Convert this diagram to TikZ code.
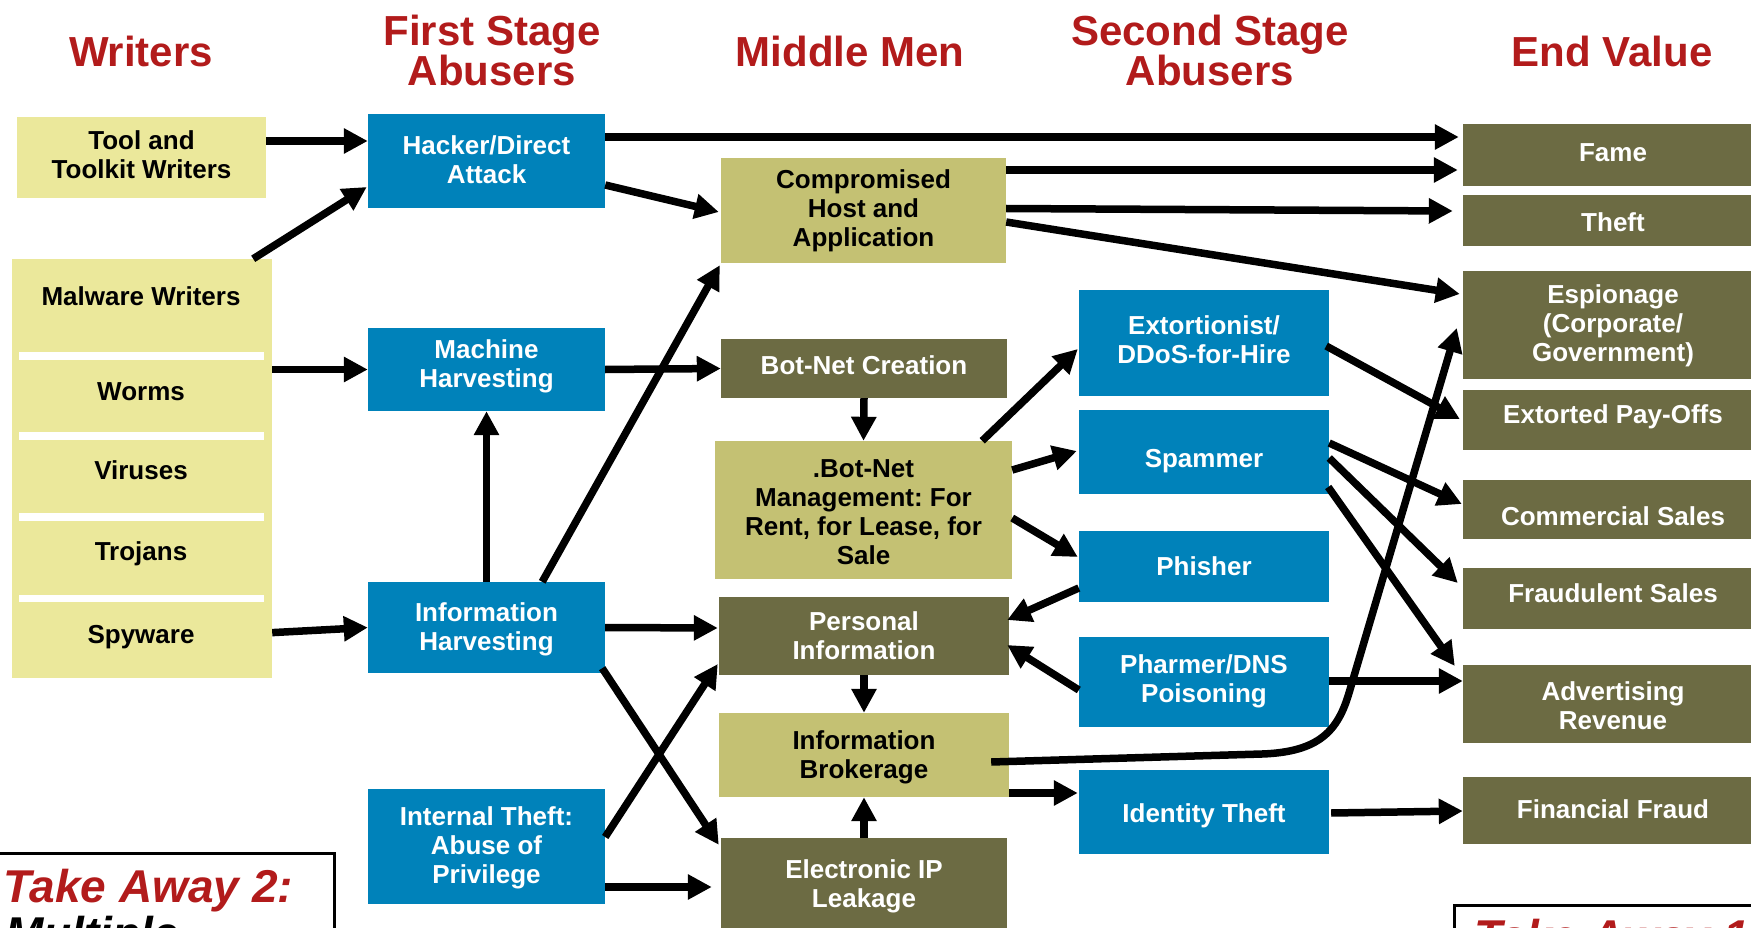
\documentclass[tikz,border=0pt]{standalone}
\usepackage{fontspec}
\setmainfont{Liberation Sans}
\usetikzlibrary{arrows.meta,calc}
\definecolor{cblue}{RGB}{0,130,186}
\definecolor{colive}{RGB}{108,107,67}
\definecolor{ckhaki}{RGB}{196,193,115}
\definecolor{cyellow}{RGB}{235,232,155}
\definecolor{cred}{RGB}{178,27,27}
\frenchspacing
\newcommand\boxfont{\bfseries\fontsize{26}{29}\selectfont\frenchspacing}
\newcommand\hdrfont{\bfseries\fontsize{42}{40}\selectfont}
\newcommand\tafont{\bfseries\itshape\fontsize{46}{47}\selectfont}
\begin{document}
\begin{tikzpicture}[x=1pt,y=-1pt,
  sz/.style 2 args={minimum width=#1pt, minimum height=#2pt},
  lastbase/.style={text height=#1pt, text depth=0pt},
  box/.style={rectangle, inner sep=0pt, align=center, font=\boxfont},
  bluebox/.style={box, fill=cblue, text=white},
  olivebox/.style={box, fill=colive, text=white},
  khakibox/.style={box, fill=ckhaki, text=black},
  ybox/.style={box, fill=cyellow, text=black},
  wtxt/.style={anchor=base, inner sep=0pt, font=\boxfont, text=black},
  hdr/.style={anchor=base, inner sep=0pt, text=cred, font=\hdrfont},
  tabox/.style={rectangle, draw=black, line width=2.5pt, fill=white, inner sep=0pt},
  tatext/.style={anchor=base west, inner sep=0pt, font=\tafont, text=black},
  arr/.style={line width=7.5pt, -{Triangle[length=24pt,width=24pt]}}
]
\useasboundingbox (0,0) rectangle (1751,928);
\clip (0,0) rectangle (1751,928);
\fill[white] (0,0) rectangle (1751,928);

% headers
\node[hdr] (hw) at (141,67) {Writers};
\node[hdr] (hf1) at (492,45.5) {First Stage};
\node[hdr] (hf2) at (492,86) {Abusers};
\node[hdr] (hm) at (850,67) {Middle Men};
\node[hdr] (hs1) at (1210,45.5) {Second Stage};
\node[hdr] (hs2) at (1210,86) {Abusers};
\node[hdr] (he) at (1612,67) {End Value};

% writers
\node[ybox, sz={249}{81}, lastbase=43] (tool) at (141.5,157.5) {Tool and\\Toolkit Writers};
\node[ybox, sz={260}{419}] (mal) at (142,468.5) {};
\fill[white] (19,352) rectangle (264,360);
\fill[white] (19,432) rectangle (264,439.5);
\fill[white] (19,513) rectangle (264,520.5);
\fill[white] (19,594.5) rectangle (264,602);
\node[wtxt] (mw) at (141,305) {Malware Writers};
\node[wtxt] (worms) at (141,400) {Worms};
\node[wtxt] (vir) at (141,479) {Viruses};
\node[wtxt] (troj) at (141,560) {Trojans};
\node[wtxt] (spy) at (141,643) {Spyware};

% first stage
\node[bluebox, sz={237}{94}, lastbase=44.6] (hack) at (486.5,161) {Hacker/Direct\\Attack};
\node[bluebox, sz={237}{83}, lastbase=35] (mach) at (486.5,369.5) {Machine\\Harvesting};
\node[bluebox, sz={237}{91}, lastbase=45] (infoh) at (486.5,627.5) {Information\\Harvesting};
\node[bluebox, sz={237}{115}, lastbase=73] (intern) at (486.5,846.5) {Internal Theft:\\Abuse of\\Privilege};

% middle men
\node[khakibox, sz={285}{105}, lastbase=72.4] (comp) at (863.5,210.5) {Compromised\\Host and\\Application};
\node[olivebox, sz={286}{59}, lastbase=11] (botc) at (864,368.5) {Bot-Net Creation};
\node[khakibox, sz={297}{138}, lastbase=108] (mgmt) at (863.5,510) {.Bot-Net\\Management: For\\Rent, for Lease, for\\Sale};
\node[olivebox, sz={290}{78}, lastbase=46] (pers) at (864,636) {Personal\\Information};
\node[khakibox, sz={290}{84}, lastbase=46] (brok) at (864,755) {Information\\Brokerage};
\node[olivebox, sz={286}{92}, lastbase=46] (elec) at (864,884) {Electronic IP\\Leakage};

% second stage
\node[bluebox, sz={250}{106}, lastbase=40] (ext) at (1204,343) {Extortionist/\\DDoS-for-Hire};
\node[bluebox, sz={250}{84}, lastbase=30] (spam) at (1204,452) {Spammer};
\node[bluebox, sz={250}{71}, lastbase=17] (phish) at (1204,566.5) {Phisher};
\node[bluebox, sz={250}{90}, lastbase=41.4] (pharm) at (1204,682) {Pharmer/DNS\\Poisoning};
\node[bluebox, sz={250}{84}, lastbase=20] (ident) at (1204,812) {Identity Theft};

% end value
\node[olivebox, sz={300}{62}, lastbase=14] (fame) at (1613,155) {Fame};
\node[olivebox, sz={300}{51}, lastbase=23] (theft) at (1613,220.5) {Theft};
\node[olivebox, sz={300}{108}, lastbase=72] (esp) at (1613,325) {Espionage\\(Corporate/\\Government)};
\node[olivebox, sz={300}{60}, lastbase=6] (extp) at (1613,420) {Extorted Pay-Offs};
\node[olivebox, sz={300}{59}, lastbase=31] (comm) at (1613,509.5) {Commercial Sales};
\node[olivebox, sz={300}{61}, lastbase=7] (fraud) at (1613,598.5) {Fraudulent Sales};
\node[olivebox, sz={300}{78}, lastbase=50.6] (adv) at (1613,704) {Advertising\\Revenue};
\node[olivebox, sz={300}{67}, lastbase=15] (fin) at (1613,810.5) {Financial Fraud};

% take away boxes
\node[tabox, anchor=north west, sz={337}{110}] (ta2box) at (-4,852) {};
\node[tatext, text=cred] (ta2a) at (3,902) {Take Away 2:};
\node[tatext] (ta2b) at (5,949) {Multiple};
\node[tabox, anchor=north west, sz={330}{100}] (ta1box) at (1453,904) {};
\node[tatext, text=cred] (ta1a) at (1474,952) {Take Away 1:};

% connectors
\draw[arr] ($(tool.east)+(0,-16.5)$) -- ($(hack.west)+(0,-20)$);
\draw[arr] ($(mal.north east)+(-19,0)$) -- ($(hack.west)+(-1,26)$);
\draw[arr] (mal.east |- mach) -- (mach.west);
\draw[arr] ($(mal.east |- spy)+(0,-4)$) -- (infoh.west);
\draw[arr] (infoh.north) -- (mach.south);
\draw[arr] ($(hack.east)+(0,-24)$) -- ($(fame.west)+(-4,-18)$);
\draw[arr] ($(hack.east)+(0,24)$) -- ($(comp.west)+(-2,1.5)$);
\draw[arr] ($(comp.east)+(0,-40.5)$) -- ($(fame.west)+(-5,15)$);
\draw[arr] ($(comp.east)+(0,-2)$) -- ($(theft.west)+(-10,-9.5)$);
\draw[arr] ($(comp.east)+(0,11.5)$) -- ($(esp.west)+(-3,-31)$);
\draw[arr] ($(infoh.north east)+(-63,0)$) -- ($(comp.south west)+(-1,2)$);
\draw[arr] (mach.east) -- (botc.west);
\draw[arr] (botc.south) -- (mgmt.north);
\draw[arr] ($(mgmt.north east)+(-30,0)$) -- ($(ext.west)+(-1,6)$);
\draw[arr] ($(mgmt.east)+(0,-40)$) -- ($(spam.west)+(-2,-1)$);
\draw[arr] ($(mgmt.east)+(0,8)$) -- ($(phish.west)+(-1,-9.5)$);
\draw[arr] ($(phish.west)+(0,21.5)$) -- ($(pers.east)+(-2,-16)$);
\draw[arr] ($(pharm.west)+(0,8)$) -- ($(pers.east)+(-2,9)$);
\draw[arr] (infoh.east) -- ($(pers.west)+(-1,-8)$);
\draw[arr] ($(infoh.south east)+(-3,-5)$) -- ($(elec.north west)+(-2,7)$);
\draw[arr] ($(intern.east)+(0,-9.5)$) -- ($(pers.west)+(-1,28)$);
\draw[arr] ($(intern.east)+(0,40.5)$) -- ($(elec.west)+(-9,3)$);
\draw[arr] (pers.south) -- (brok.north);
\draw[arr] (elec.north) -- (brok.south);
\draw[arr] ($(brok.east)+(0,38)$) -- ($(ident.west)+(-1,-19)$);
\coordinate (cv1) at (1262,754);
\coordinate (cv2) at (1349,693);
\draw[arr] ($(brok.east)+(-18,7)$) -- (cv1) .. controls (1320,752) and (1338,730) .. (cv2) -- ($(esp.west)+(-6,3)$);
\draw[arr] ($(ext.east)+(-3,3)$) -- ($(extp.west)+(-3,-1)$);
\draw[arr] ($(spam.east)+(0,-9)$) -- ($(comm.west)+(-1,-5.5)$);
\draw[arr] ($(spam.east)+(0,6)$) -- ($(fraud.west)+(-5,-15.5)$);
\draw[arr] ($(spam.east)+(-1,35)$) -- ($(adv.west)+(-8,-38)$);
\draw[arr] ($(pharm.east)+(0,-1)$) -- ($(adv.west)+(0,-23)$);
\draw[arr] ($(ident.east)+(2,1)$) -- ($(fin.west)+(0,0.5)$);
\end{tikzpicture}
\end{document}
